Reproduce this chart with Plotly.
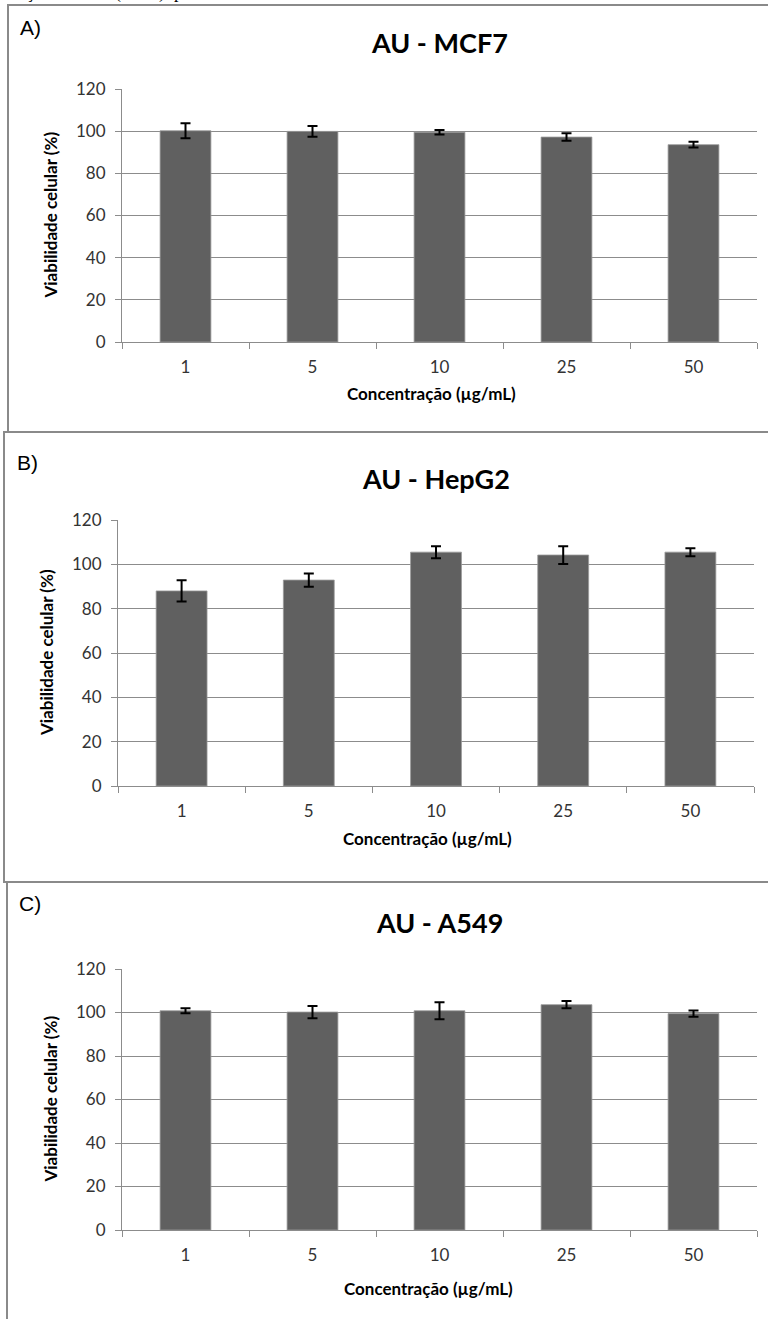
import plotly.graph_objects as go

# ---- data ----
concentrations = ["1", "5", "10", "25", "50"]
mcf7_values = [100.2, 99.9, 99.5, 97.2, 93.6]
mcf7_errors = [3.6, 2.5, 1.1, 1.8, 1.4]
hepg2_values = [88.0, 92.9, 105.5, 104.2, 105.5]
hepg2_errors = [4.8, 3.0, 2.7, 4.0, 1.8]
a549_values = [100.8, 100.2, 100.8, 103.6, 99.5]
a549_errors = [1.2, 2.8, 3.9, 1.7, 1.4]
titles = ["AU - MCF7", "AU - HepG2", "AU - A549"]
panel_labels = ["A)", "B)", "C)"]
x_title = "Concentração (µg/mL)"
y_title = "Viabilidade celular (%)"
# clipped fragments of the document line above the figure
top_fragments = ["ção", "(", ")", "p"]

W, H = 768, 1319

# layout geometry (pixels)
panels = [
    dict(vals=mcf7_values, errs=mcf7_errors, x0=122, x1=757, ytop=89, ybot=342,
         title_y=42, xt_x=431, xt_y=393, yt_x=50, lab_x=30, lab_y=27,
         box=(8, 5, 772, 432)),
    dict(vals=hepg2_values, errs=hepg2_errors, x0=118, x1=754, ytop=520, ybot=786,
         title_y=478, xt_x=427, xt_y=838, yt_x=46, lab_x=27, lab_y=463,
         box=(4, 432, 772, 882)),
    dict(vals=a549_values, errs=a549_errors, x0=122, x1=757, ytop=969, ybot=1230,
         title_y=922, xt_x=428, xt_y=1288, yt_x=50, lab_x=30, lab_y=903,
         box=(7, 882, 772, 1330)),
]
fragment_x = [38, 118, 162, 178]

def px(x):
    return x / W

def py(y):
    return 1 - y / H

FONT = "Lato, 'Open Sans', sans-serif"
GRID = "#8c8c8c"

fig = go.Figure()
annotations = []
shapes = []

for i, p in enumerate(panels):
    n = "" if i == 0 else str(i + 1)
    fig.add_trace(go.Bar(
        x=concentrations, y=p["vals"],
        error_y=dict(type="data", array=p["errs"], visible=True,
                     color="#000000", thickness=2, width=5),
        marker=dict(color="#606060", line=dict(color="#9a9a9a", width=0.8)),
        xaxis="x" + n, yaxis="y" + n, showlegend=False,
    ))
    fig.layout["xaxis" + n] = dict(
        domain=[px(p["x0"]), px(p["x1"])], anchor="y" + n,
        type="category", showgrid=False, showline=True, linecolor=GRID, linewidth=1,
        ticks="outside", tickson="boundaries", ticklen=6, tickcolor=GRID,
        ticklabelstandoff=10,
        tickfont=dict(family=FONT, size=17, color="#333333"),
        zeroline=False, fixedrange=True, automargin=False,
    )
    fig.layout["yaxis" + n] = dict(
        domain=[py(p["ybot"]), py(p["ytop"])], anchor="x" + n,
        range=[0, 120], tickvals=[0, 20, 40, 60, 80, 100, 120],
        showgrid=True, gridcolor=GRID, gridwidth=1,
        showline=True, linecolor=GRID, linewidth=1,
        ticks="outside", ticklen=6, tickcolor=GRID,
        ticklabelstandoff=6,
        tickfont=dict(family=FONT, size=17, color="#333333"),
        zeroline=False, fixedrange=True, automargin=False,
    )
    xc = (p["x0"] + p["x1"]) / 2
    annotations.append(dict(
        text="<b>" + titles[i] + "</b>", x=px(xc), y=py(p["title_y"]),
        xref="paper", yref="paper", showarrow=False,
        font=dict(family=FONT, size=27, color="#000000"),
        xanchor="center", yanchor="middle"))
    annotations.append(dict(
        text="<b>" + x_title + "</b>", x=px(p["xt_x"]), y=py(p["xt_y"]),
        xref="paper", yref="paper", showarrow=False,
        font=dict(family=FONT, size=17, color="#000000"),
        xanchor="center", yanchor="middle"))
    annotations.append(dict(
        text="<b>" + y_title + "</b>", x=px(p["yt_x"]),
        y=py((p["ytop"] + p["ybot"]) / 2),
        xref="paper", yref="paper", showarrow=False, textangle=-90,
        font=dict(family=FONT, size=17, color="#000000"),
        xanchor="center", yanchor="middle"))
    annotations.append(dict(
        text=panel_labels[i], x=px(p["lab_x"]), y=py(p["lab_y"]),
        xref="paper", yref="paper", showarrow=False,
        font=dict(family="'Liberation Sans', Arial, sans-serif", size=21, color="#000000"),
        xanchor="center", yanchor="middle"))
    bx0, by0, bx1, by1 = p["box"]
    shapes.append(dict(type="rect", xref="paper", yref="paper",
                       x0=px(bx0), x1=px(bx1), y0=py(by1), y1=py(by0),
                       line=dict(color="#8a8a8a", width=2), fillcolor="rgba(0,0,0,0)",
                       layer="below"))

for t, fx in zip(top_fragments, fragment_x):
    annotations.append(dict(
        text=t, x=px(fx), y=py(-8), xref="paper", yref="paper", showarrow=False,
        font=dict(family="'Liberation Serif', 'Times New Roman', serif", size=18, color="#000000"),
        xanchor="center", yanchor="middle"))

fig.update_layout(
    width=W, height=H,
    margin=dict(l=0, r=0, t=0, b=0, pad=0, autoexpand=False),
    paper_bgcolor="white", plot_bgcolor="white",
    bargap=0.6,
    annotations=annotations, shapes=shapes,
)

page_fix = (
    "document.documentElement.style.margin='0';"
    "document.documentElement.style.overflow='hidden';"
    "document.body.style.margin='0';"
    "document.body.style.overflow='hidden';"
    "var d=document.getElementById('{plot_id}');"
    "d.style.position='absolute';d.style.top='0px';d.style.left='0px';"
)

fig.write_html("out.html", config={"displayModeBar": False}, post_script=page_fix)
